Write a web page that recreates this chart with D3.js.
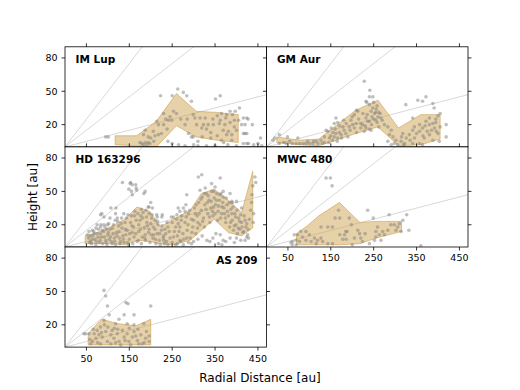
<!DOCTYPE html>
<html>
<head>
<meta charset="utf-8">
<script src="https://cdn.jsdelivr.net/npm/d3@7"></script>
<style>
  body { margin: 0; background: #fff; }
  text { font-family: "DejaVu Sans", sans-serif; }
</style>
</head>
<body>
<div id="chart"></div>
<script>
// tick values and reference slopes
const xTicks = [50, 150, 250, 350, 450];
const yTicks = [20, 50, 80];
const slopes = [0.1, 0.3, 0.5];

// IM Lup
const imLupR = [117, 167, 213, 260, 306, 354, 404];
const imLupUpper = [10, 10, 23, 48, 32, 31, 29];
const imLupLower = [2, 1, 0, 19, 9, 6, 4];
const imLupPoints = [[95,9],[101,9],[223,46],[250,46],[263,52],[276,49],[284,46],[295,41],[351,43],[362,46],[407,35],[385,32],[397,32],[377,29],[391,29],[416,26],[424,26],[420,20],[412,20],[437,20],[427,25],[253,32],[245,27],[249,24],[241,24],[214,23],[218,20],[206,14],[225,12],[218,11],[187,15],[183,11],[194,9],[175,4],[179,3],[187,4],[194,4],[198,3],[183,2],[191,2],[299,29],[303,26],[315,26],[327,26],[307,20],[323,20],[334,20],[346,20],[319,17],[362,24],[373,20],[369,15],[381,14],[377,11],[389,11],[288,12],[295,9],[299,9],[365,6],[389,6],[416,12],[420,12],[424,12],[416,3],[424,3],[428,3],[459,1],[456,8],[330,1],[350,1],[280,1],[265,2],[395,24],[405,24],[360,21],[340,13],[310,5],[370,4],[230,30],[207,5],
  [200,8],[210,10],[230,20],[235,25],[238,16],[260,30],[270,25],[280,20],[285,25],[330,16],[345,25],[355,28],[365,30],[375,26],[385,22],[395,18],[400,15],[355,10],[340,8],[320,9],[240,5],[250,3],[300,2],[310,1],[380,2],[400,1],[440,2],[450,3]];

// GM Aur
const gmAurR = [24, 75, 122, 155, 208, 260, 308, 360, 405];
const gmAurUpper = [9, 6, 7, 17, 33, 42, 17, 29, 29];
const gmAurLower = [4, 2, 1, 5, 12, 18, 1, 2, 7];
const gmAurPoints = [[228,59],[241,51],[248,45],[240,45],[232,41],[234,40],[248,35],[244,32],[252,30],[256,34],[246,27],[260,27],[267,26],[255,24],[240,23],[210,33],[213,32],[205,29],[197,24],[201,20],[209,21],[193,18],[186,21],[178,18],[181,15],[170,13],[162,12],[174,11],[158,9],[166,8],[154,6],[147,8],[143,14],[151,17],[162,26],[158,21],[166,22],[232,26],[236,23],[232,17],[228,14],[244,15],[220,17],[224,20],[139,15],[135,9],[127,6],[116,5],[108,3],[100,3],[92,3],[85,3],[77,3],[69,3],[54,5],[46,3],[30,11],[19,8],[15,6],[73,8],[49,9],[275,20],[283,18],[291,15],[287,11],[295,9],[302,6],[298,3],[306,2],[314,5],[322,3],[326,8],[318,12],[325,38],[341,26],[353,42],[364,41],[372,45],[388,39],[391,35],[419,20],[419,9],[403,5],[357,20],[364,17],[372,23],[380,26],[388,21],[392,17],[396,14],[380,11],[368,8],[388,6],[357,14],[341,15],[333,11],[345,8],[357,3],[364,2],[341,3],[291,2],[283,5],[400,28],[405,30],[395,25],[240,38],[262,31],
  [150,10],[155,13],[160,16],[165,5],[170,19],[175,8],[180,24],[185,12],[190,9],[195,15],[200,27],[205,17],[210,13],[215,25],[220,21],[225,30],[230,19],[235,29],[240,16],[245,20],[250,25],[255,31],[258,22],[262,18],[265,30],[270,24],[250,40],[258,37],[135,4],[145,4],[120,3],[130,3],[110,5],[96,5],[60,3],[40,4],[30,3],[380,20],[385,15],[395,22],[400,12],[405,18],[375,14],[370,19],[365,10],[350,12],[345,18],[335,6],[315,9],[320,2]];

// HD 163296
const hdR = [47, 75, 105, 140, 168, 198, 222, 253, 292, 318, 348, 381, 412, 438];
const hdUpper = [10, 13, 18, 25, 36, 32, 18, 25, 33, 48, 52, 42, 31, 68];
const hdLower = [3, 3, 3, 2, 6, 5, 3, 2, 6, 15, 25, 13, 10, 17];
const hdPoints = [[134,58],[153,58],[157,56],[165,56],[149,52],[167,51],[157,47],[184,48],[200,40],[196,36],[204,35],[215,27],[227,29],[107,35],[83,29],[91,27],[118,30],[122,26],[99,20],[91,20],[83,18],[75,20],[72,17],[64,15],[56,14],[52,11],[152,57],[166,53],[155,50],[187,50],[86,30],[119,35],[105,26],[194,36],[214,29],[226,27],[284,47],[311,63],[319,65],[342,57],[362,62],[327,53],[315,51],[350,54],[369,50],[385,48],[389,41],[400,41],[412,35],[443,63],[445,58],[276,35],[268,32],[280,32],[261,29],[253,27],[264,35],
  [229,8],[237,5],[268,6],[284,8],[362,11],[369,6],[385,8],[400,8],[424,9],[428,8],[331,6],[338,5],[358,3],[366,2],
  [55,8],[60,5],[65,10],[70,7],[75,12],[80,4],[85,9],[90,14],[95,6],[100,11],[105,16],[110,3],[115,8],[120,13],[125,19],[130,5],[135,10],[140,22],[145,15],[150,7],[155,28],[160,18],[165,12],[170,30],[175,24],[180,9],[185,17],[190,27],[195,13],[200,21],[205,8],[210,16],[215,12],[220,6],[225,15],[230,10],[62,3],[72,2],[88,3],[98,2],[108,5],[118,2],[128,3],[138,4],[148,2],[158,3],[168,5],[178,3],[188,6],[198,4],[212,3],[222,2],[232,3],[67,14],[78,16],[93,18],[102,21],[113,20],[123,23],[133,17],[143,26],[153,22],[163,32],[172,20],[182,31],[192,19],[202,26],[112,12],[127,8],[142,11],[157,13],[172,14],[187,11],[207,11],[217,20],[103,7],[83,12],[137,30],[178,34],[196,30],[210,24],
  [235,12],[240,18],[245,8],[250,22],[255,14],[260,25],[262,10],[268,18],[272,28],[275,12],[280,22],[285,15],[288,30],[292,8],[295,25],[298,18],[302,35],[305,12],[308,28],[312,40],[315,20],[318,33],[320,45],[323,26],[326,38],[330,48],[333,30],[336,42],[340,35],[342,50],[345,28],[348,44],[351,38],[354,48],[357,32],[360,42],[363,26],[366,36],[369,45],[372,30],[375,22],[378,38],[381,28],[384,18],[387,34],[390,24],[393,15],[396,30],[399,20],[402,12],[405,26],[408,16],[412,22],[415,13],[418,28],[422,18],[426,11],[430,25],[435,40],[438,55],[440,30],[332,40],[338,22],[346,36],[356,24],[364,48],[376,44],[390,40],[300,5],[310,22],[325,18],[250,4],[258,2],[295,3],[304,30],[282,38],[270,5],
  [57,4],[63,7],[68,12],[73,5],[77,9],[82,6],[87,15],[92,9],[96,4],[101,13],[106,9],[111,17],[116,5],[121,10],[126,14],[131,21],[136,7],[141,16],[146,4],[151,12],[156,19],[161,9],[166,24],[171,6],[176,16],[181,26],[186,8],[191,22],[196,16],[201,11],[206,18],[211,7],[216,23],[221,12],[226,19],[231,6],[59,10],[84,20],[97,16],[117,24],[132,26],[147,29],[162,28],[177,28],[189,33],[203,29],
  [233,16],[238,22],[243,14],[248,27],[253,9],[258,18],[264,21],[266,14],[271,24],[277,7],[283,27],[287,20],[291,33],[296,13],[300,24],[306,38],[309,17],[313,30],[317,43],[321,23],[325,48],[329,34],[334,46],[337,27],[341,41],[344,32],[347,50],[350,30],[353,42],[358,37],[361,47],[365,30],[368,40],[371,35],[374,26],[379,32],[383,40],[386,22],[389,30],[392,36],[395,19],[398,27],[401,33],[404,17],[407,23],[410,29],[413,18],[417,14],[420,24],[424,21],[427,16],[433,33],[436,47],[439,22],
  [240,2],[262,3],[276,2],[288,4],[310,7],[320,10],[345,8],[352,12],[375,5],[395,4],[410,6],[420,6]];

// MWC 480
const mwcR = [70, 95, 122, 170, 218, 255, 315];
const mwcUpper = [12, 19, 28, 40, 22, 23, 23];
const mwcLower = [2, 2, 2, 2, 3, 8, 14];
const mwcPoints = [[139,62],[149,62],[153,55],[168,33],[171,26],[193,26],[236,33],[249,26],[286,29],[327,29],[318,24],[332,15],[360,1],[127,18],[143,18],[154,18],[185,14],[188,14],[171,11],[182,11],[213,15],[217,12],[205,8],[220,8],[178,7],[186,7],[224,5],[255,14],[263,11],[271,14],[275,11],[283,15],[290,20],[298,20],[306,18],[310,21],[314,14],[302,15],[255,9],[267,6],[252,6],[259,18],[65,11],[73,11],[80,14],[92,14],[84,9],[69,6],[61,5],[57,4],[92,6],[77,5],[100,11],[112,8],[119,6],[104,5],[127,8],[116,3],[131,5],[143,3],[154,3],[200,2],[60,2],[69,2],[160,26],[198,20],[230,12],[240,3]];

// AS 209
const asR = [54, 68, 86, 124, 150, 165, 200];
const asUpper = [12, 18, 25, 21, 20, 19, 25];
const asLower = [2, 2, 2, 2, 2, 2, 2];
const asPoints = [[91,51],[95,46],[99,37],[142,40],[147,39],[200,37],[103,29],[138,29],[161,29],[91,24],[126,25],[118,21],[145,21],[161,20],[184,21],[44,12],[48,12],[56,12],[68,12],[75,15],[83,18],[72,8],[79,11],[87,9],[95,14],[99,5],[107,11],[110,15],[114,8],[122,12],[126,5],[134,15],[138,9],[145,12],[149,5],[157,9],[161,14],[169,6],[177,11],[180,3],[188,8],[196,5],[64,5],[60,3],[83,3],[107,3],[130,2],[153,2],[172,3],[92,20],[115,17],[150,17],[170,16],[66,16],[100,18],[123,16],[140,6],[190,14],[196,10],[85,13],[58,7],[76,4],[118,4],[165,10],[185,4]];

const panels = [
  { name: "IM Lup", row: 0, col: 0, r: imLupR, up: imLupUpper, lo: imLupLower, pts: imLupPoints },
  { name: "GM Aur", row: 0, col: 1, r: gmAurR, up: gmAurUpper, lo: gmAurLower, pts: gmAurPoints },
  { name: "HD 163296", row: 1, col: 0, r: hdR, up: hdUpper, lo: hdLower, pts: hdPoints },
  { name: "MWC 480", row: 1, col: 1, r: mwcR, up: mwcUpper, lo: mwcLower, pts: mwcPoints, xLabels: true },
  { name: "AS 209", row: 2, col: 0, r: asR, up: asUpper, lo: asLower, pts: asPoints, xLabels: true, labelRight: true }
];

const width = 520, height = 390;
const marginLeft = 65, marginTop = 46.8;
const pw = 201.5, ph = 100.1;
const tickLen = 3.5;

const svg = d3.select("#chart").append("svg")
  .attr("width", width)
  .attr("height", height);

const x = d3.scaleLinear().domain([0, 470]).range([0, pw]);
const y = d3.scaleLinear().domain([0, 90]).range([ph, 0]);

panels.forEach((p, i) => {
  const g = svg.append("g")
    .attr("transform", `translate(${marginLeft + p.col * pw},${marginTop + p.row * ph})`);

  const clipId = "clip" + i;
  g.append("clipPath").attr("id", clipId)
    .append("rect").attr("width", pw).attr("height", ph);

  const inner = g.append("g").attr("clip-path", `url(#${clipId})`);

  // white background
  inner.append("rect").attr("width", pw).attr("height", ph).attr("fill", "#fff");

  // reference lines z/r = const
  inner.selectAll("line.ref").data(slopes).join("line")
    .attr("class", "ref")
    .attr("x1", x(0)).attr("y1", y(0))
    .attr("x2", x(470)).attr("y2", d => y(470 * d))
    .attr("stroke", "#bdbdbd")
    .attr("stroke-width", 0.6);

  // band
  const bandData = p.r.map((r, k) => ({ r: r, lo: p.lo[k], up: p.up[k] }));
  const area = d3.area()
    .x(d => x(d.r))
    .y0(d => y(d.lo))
    .y1(d => y(d.up));
  inner.append("path")
    .datum(bandData)
    .attr("d", area)
    .attr("fill", "#cfa452")
    .attr("fill-opacity", 0.5)
    .attr("stroke", "#cfa452")
    .attr("stroke-opacity", 0.8)
    .attr("stroke-width", 0.8);

  // points
  inner.selectAll("circle").data(p.pts).join("circle")
    .attr("cx", d => x(d[0]))
    .attr("cy", d => y(d[1]))
    .attr("r", 1.8)
    .attr("fill", "#808080")
    .attr("fill-opacity", 0.5);

  // ticks on all four sides (outward)
  const tk = g.append("g").attr("stroke", "#000").attr("stroke-width", 0.8);
  xTicks.forEach(t => {
    tk.append("line").attr("x1", x(t)).attr("x2", x(t)).attr("y1", ph).attr("y2", ph + tickLen);
    tk.append("line").attr("x1", x(t)).attr("x2", x(t)).attr("y1", 0).attr("y2", -tickLen);
  });
  yTicks.forEach(t => {
    tk.append("line").attr("x1", 0).attr("x2", -tickLen).attr("y1", y(t)).attr("y2", y(t));
    tk.append("line").attr("x1", pw).attr("x2", pw + tickLen).attr("y1", y(t)).attr("y2", y(t));
  });

  // frame
  g.append("rect")
    .attr("width", pw).attr("height", ph)
    .attr("fill", "none")
    .attr("stroke", "#000")
    .attr("stroke-width", 0.8);

  // tick labels
  if (p.col === 0) {
    g.selectAll("text.yt").data(yTicks).join("text")
      .attr("class", "yt")
      .attr("x", -tickLen - 4)
      .attr("y", d => y(d))
      .attr("dy", "0.35em")
      .attr("text-anchor", "end")
      .attr("font-size", 9.5)
      .text(d => d);
  }
  if (p.xLabels) {
    g.selectAll("text.xt").data(xTicks).join("text")
      .attr("class", "xt")
      .attr("x", d => x(d))
      .attr("y", ph + tickLen + 11)
      .attr("text-anchor", "middle")
      .attr("font-size", 9.5)
      .text(d => d);
  }

  // disk name
  g.append("text")
    .attr("x", p.labelRight ? pw - 9 : 10.5)
    .attr("y", 16.5)
    .attr("text-anchor", p.labelRight ? "end" : "start")
    .attr("font-size", 10.5)
    .attr("font-weight", "bold")
    .text(p.name);
});

// axis titles
svg.append("text")
  .attr("x", 260)
  .attr("y", 382)
  .attr("text-anchor", "middle")
  .attr("font-size", 12)
  .text("Radial Distance [au]");

svg.append("text")
  .attr("transform", "translate(37,197) rotate(-90)")
  .attr("text-anchor", "middle")
  .attr("font-size", 12)
  .text("Height [au]");
</script>
</body>
</html>
